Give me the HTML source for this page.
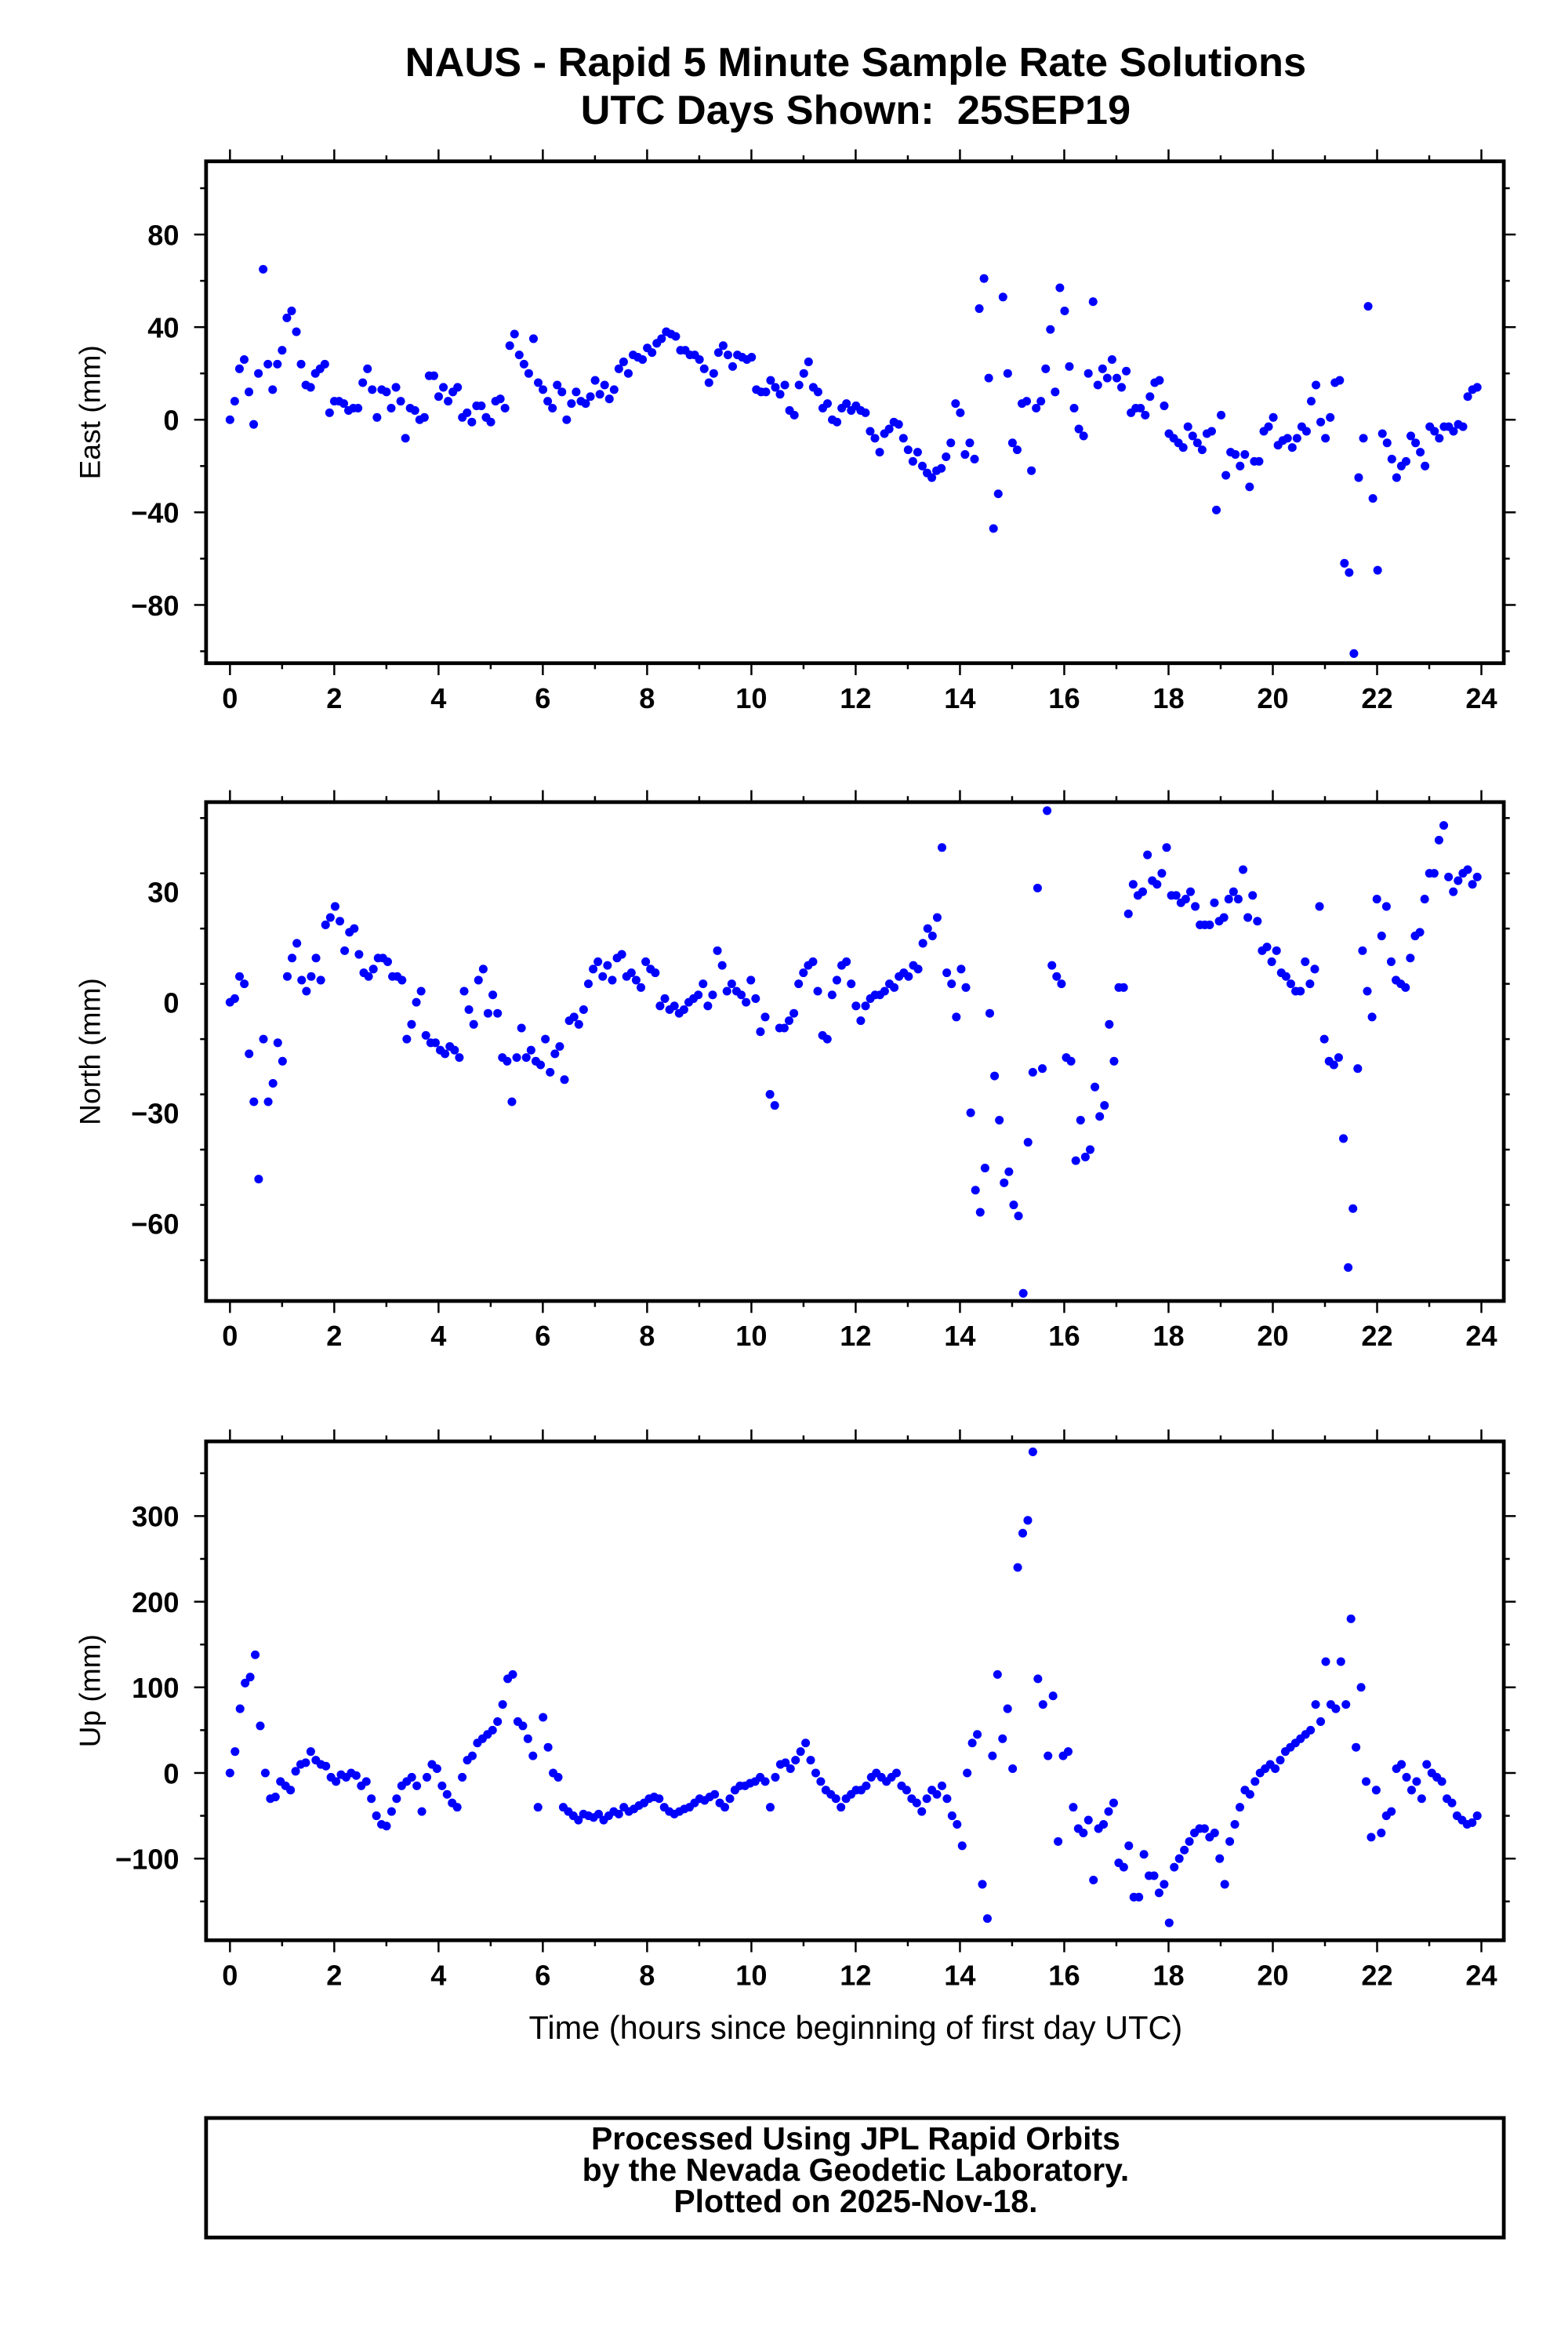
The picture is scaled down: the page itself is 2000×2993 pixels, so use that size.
<!DOCTYPE html>
<html><head><meta charset="utf-8"><style>html,body{margin:0;padding:0;background:#fff}svg{display:block}text{font-family:"Liberation Sans",Arial,sans-serif}</style></head>
<body>
<svg id="chart" width="2000" height="2993" viewBox="0 0 1050 1571.3" xmlns="http://www.w3.org/2000/svg">
<text x="573" y="51" text-anchor="middle" font-size="27.5" font-weight="bold">NAUS - Rapid 5 Minute Sample Rate Solutions</text>
<text x="573" y="83" text-anchor="middle" font-size="27.5" font-weight="bold" xml:space="preserve" style="white-space:pre">UTC Days Shown:  25SEP19</text>
<text x="573" y="1365" text-anchor="middle" font-size="21.8">Time (hours since beginning of first day UTC)</text>
<g>
<rect x="138" y="1418" width="869" height="80" fill="none" stroke="#000" stroke-width="2.5"/>
<text x="573" y="1439" text-anchor="middle" font-size="21.5" font-weight="bold">Processed Using JPL Rapid Orbits</text>
<text x="573" y="1460" text-anchor="middle" font-size="21.5" font-weight="bold">by the Nevada Geodetic Laboratory.</text>
<text x="573" y="1481" text-anchor="middle" font-size="21.5" font-weight="bold">Plotted on 2025-Nov-18.</text>
</g>
</svg>
<script>
const xTicks=[0,2,4,6,8,10,12,14,16,18,20,22,24];
const eastTicks=[80,40,0,-40,-80];
const northTicks=[30,0,-30,-60];
const upTicks=[300,200,100,0,-100];
const eastVals=[0,8,22,26,12,-2,20,65,24,13,24,30,44,47,38,24,15,14,20,22,24,3,8,8,7,4,5,5,16,22,13,1,13,12,5,14,8,-8,5,4,0,1,19,19,10,14,8,12,14,1,3,-1,6,6,1,-1,8,9,5,32,37,28,24,20,35,16,13,8,5,15,12,0,7,12,8,7,10,17,11,15,9,13,22,25,20,28,27,26,31,29,33,35,38,37,36,30,30,28,28,26,22,16,20,29,32,28,23,28,27,26,27,13,12,12,17,14,11,15,4,2,15,20,25,14,12,5,7,0,-1,5,7,4,6,4,3,-5,-8,-14,-6,-4,-1,-2,-8,-13,-18,-14,-20,-23,-25,-22,-21,-16,-10,7,3,-15,-10,-17,48,61,18,-47,-32,53,20,-10,-13,7,8,-22,5,8,22,39,12,57,47,23,5,-4,-7,20,51,15,22,18,26,18,14,21,3,5,5,2,10,16,17,6,-6,-8,-10,-12,-3,-7,-10,-13,-6,-5,-39,2,-24,-14,-15,-20,-15,-29,-18,-18,-5,-3,1,-11,-9,-8,-12,-8,-3,-5,8,15,-1,-8,1,16,17,-62,-66,-101,-25,-8,49,-34,-65,-6,-10,-17,-25,-20,-18,-7,-10,-14,-20,-3,-5,-8,-3,-3,-5,-2,-3,10,13,14];
const northVals=[0,1,7,5,-14,-27,-48,-10,-27,-22,-11,-16,7,12,16,6,3,7,12,6,21,23,26,22,14,19,20,13,8,7,9,12,12,11,7,7,6,-10,-6,0,3,-9,-11,-11,-13,-14,-12,-13,-15,3,-2,-6,6,9,-3,2,-3,-15,-16,-27,-15,-7,-15,-13,-16,-17,-10,-19,-14,-12,-21,-5,-4,-6,-2,5,9,11,7,10,6,12,13,7,8,6,4,11,9,8,-1,1,-2,-1,-3,-2,0,1,2,5,-1,2,14,10,3,5,3,2,0,6,1,-8,-4,-25,-28,-7,-7,-5,-3,5,8,10,11,3,-9,-10,2,6,10,11,5,-1,-5,-1,1,2,2,3,5,4,7,8,7,10,9,16,20,18,23,42,8,5,-4,9,4,-30,-51,-57,-45,-3,-20,-32,-49,-46,-55,-58,-79,-38,-19,31,-18,52,10,7,5,-15,-16,-43,-32,-42,-40,-23,-31,-28,-6,-16,4,4,24,32,29,30,40,33,32,35,42,29,29,27,28,30,26,21,21,21,27,22,23,28,30,28,36,23,29,22,14,15,11,14,8,7,5,3,3,11,5,9,26,-10,-16,-17,-15,-37,-72,-56,-18,14,3,-4,28,18,26,11,6,5,4,12,18,19,28,35,35,44,48,34,30,33,35,36,32,34];
const upVals=[0,25,75,105,112,138,55,0,-30,-28,-10,-15,-20,2,10,12,25,15,10,8,-5,-10,-2,-5,0,-3,-15,-10,-30,-50,-60,-62,-45,-30,-15,-10,-5,-15,-45,-5,10,5,-15,-25,-35,-40,-5,15,20,35,40,45,50,60,80,110,115,60,55,40,20,-40,65,30,0,-5,-40,-45,-50,-55,-48,-50,-52,-48,-55,-50,-45,-48,-40,-45,-42,-38,-35,-30,-28,-30,-40,-45,-48,-45,-42,-40,-35,-30,-32,-28,-25,-35,-40,-30,-20,-15,-15,-12,-10,-5,-10,-40,-5,10,12,5,15,25,35,15,0,-10,-20,-25,-30,-40,-30,-25,-20,-20,-15,-5,0,-5,-10,-5,0,-15,-20,-30,-35,-45,-30,-20,-25,-15,-30,-50,-60,-85,0,35,45,-130,-170,20,115,40,75,5,240,280,295,375,110,80,20,90,-80,20,25,-40,-65,-70,-55,-125,-65,-60,-45,-35,-105,-110,-85,-145,-145,-95,-120,-120,-140,-130,-175,-110,-100,-90,-80,-70,-65,-65,-75,-70,-100,-130,-80,-60,-40,-20,-25,-10,0,5,10,5,15,25,30,35,40,45,50,80,60,130,80,75,130,80,180,30,100,-10,-75,-20,-70,-50,-45,5,10,-5,-20,-10,-30,10,0,-5,-10,-30,-35,-50,-55,-60,-58,-50];
const tStart=0, tEnd=23.92;

const svg=document.getElementById('chart');
const NS='http://www.w3.org/2000/svg';
const X0=138,X1=1007;
function xs(h){return 154+h*(992-154)/24;}
function mk(tag,attrs,parent){const e=document.createElementNS(NS,tag);for(const k in attrs)e.setAttribute(k,attrs[k]);parent.appendChild(e);return e;}
function panel(name,top,bot,y0px,yA,yApx,ticks,minor,vals,title){
  const ys=v=>y0px+(yApx-y0px)*v/yA;
  const g=mk('g',{},svg);
  
  
  for(let h=0;h<=24;h++){
    const L=h%2==0?8:4;
    mk('line',{x1:xs(h),x2:xs(h),y1:bot,y2:bot+L,stroke:'#000','stroke-width':1.3},g);
    mk('line',{x1:xs(h),x2:xs(h),y1:top,y2:top-L,stroke:'#000','stroke-width':1.3},g);
  }
  xTicks.forEach(h=>{
    const t=mk('text',{x:xs(h),y:bot+30,'text-anchor':'middle','font-size':19,'font-weight':'bold'},g);
    t.textContent=h;
    
    
  });
  for(let v=-1000;v<=1000;v+=minor){
    const y=ys(v); if(y<top||y>bot) continue;
    const L=ticks.includes(v)?8:4;
    mk('line',{x1:X0,x2:X0-L,y1:y,y2:y,stroke:'#000','stroke-width':1.3},g);
    mk('line',{x1:X1,x2:X1+L,y1:y,y2:y,stroke:'#000','stroke-width':1.3},g);
  }
  ticks.forEach(v=>{
    const t=mk('text',{x:X0-18,y:ys(v)+7,'text-anchor':'end','font-size':19,'font-weight':'bold'},g);
    t.textContent=v<0?'\u2212'+(-v):String(v);
    
    
  });
  const at=mk('text',{x:0,y:0,'text-anchor':'middle','font-size':19.5,transform:`translate(67,${(top+bot)/2}) rotate(-90)`},g);
  at.textContent=title;
  
  
  const pts=mk('g',{fill:'#0000ff'},g);
  
  
  const n=vals.length;
  vals.forEach((v,i)=>{
    const h=tStart+(tEnd-tStart)*i/(n-1);
    const y=ys(v); if(y<top-3||y>bot+3) return;
    const c=mk('circle',{cx:xs(h),cy:y,r:2.9},pts);
    
    
  });
  const f=mk('rect',{x:X0,y:top,width:X1-X0,height:bot-top,fill:'none',stroke:'#000','stroke-width':2.5},g);
  
  
}
panel('east',108,444,281,80,157,eastTicks,20,eastVals,'East (mm)');
panel('north',537,871,671,30,597,northTicks,15,northVals,'North (mm)');
panel('up',965,1299,1187,300,1015,upTicks,50,upVals,'Up (mm)');
</script>
</body></html>
